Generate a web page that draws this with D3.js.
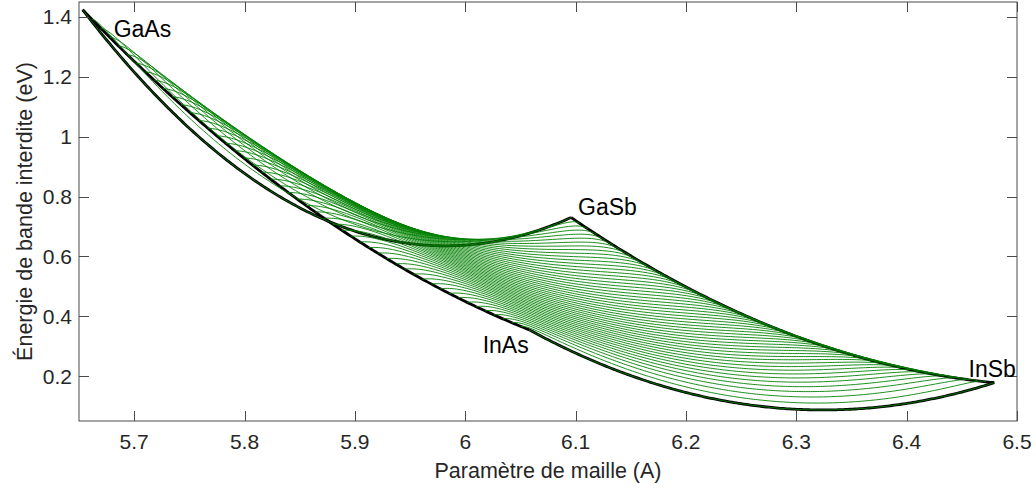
<!DOCTYPE html>
<html>
<head>
<meta charset="utf-8">
<script src="https://cdn.jsdelivr.net/npm/d3@7"></script>
<style>
  html, body { margin: 0; padding: 0; background: #fff; }
  svg { display: block; font-family: "Liberation Sans", Arial, sans-serif; }
</style>
</head>
<body>
<svg id="chart"></svg>
<script>
// binary compounds: lattice constant (A) and band gap (eV)
const binaries = ["GaAs", "GaSb", "InAs", "InSb"];
const latticeConst = [5.6533, 6.0959, 6.0584, 6.4794];
const bandGap = [1.424, 0.73, 0.354, 0.178];

// ternary bowing parameters (eV)
const ternaries = ["GaInAs", "GaInSb", "GaAsSb", "InAsSb"];
const bowing = [0.477, 0.415, 1.43, 0.67];

// In fractions x of the Ga(1-x)In(x)As(y)Sb(1-y) curves
const inFraction = [
  0, 0.02, 0.04, 0.06, 0.08, 0.1, 0.12, 0.14, 0.16, 0.18, 0.2, 0.22, 0.24, 0.26,
  0.28, 0.3, 0.32, 0.34, 0.36, 0.38, 0.4, 0.42, 0.44, 0.46, 0.48, 0.5, 0.52,
  0.54, 0.56, 0.58, 0.6, 0.62, 0.64, 0.66, 0.68, 0.7, 0.72, 0.74, 0.76, 0.78,
  0.8, 0.82, 0.84, 0.86, 0.88, 0.9, 0.92, 0.94, 0.96, 0.98, 1,
];
// As fractions y sampled along each curve
const asFraction = d3.range(0, 201).map((i) => i / 200);

const xTicks = [5.7, 5.8, 5.9, 6, 6.1, 6.2, 6.3, 6.4, 6.5];
const yTicks = [0.2, 0.4, 0.6, 0.8, 1, 1.2, 1.4];
const xDomain = [5.65, 6.5];
const yDomain = [0.05, 1.45];

const width = 1036;
const height = 498;
const margin = { top: 2, right: 19, bottom: 77, left: 79 };
const innerW = width - margin.left - margin.right;
const innerH = height - margin.top - margin.bottom;

const B = (name) => bowing[ternaries.indexOf(name)];
const A = (name) => latticeConst[binaries.indexOf(name)];
const E = (name) => bandGap[binaries.indexOf(name)];

// ternary band gaps
const tern = (e1, e2, c, s) => (1 - s) * e1 + s * e2 - s * (1 - s) * c;
const tGaInAs = (x) => tern(E("GaAs"), E("InAs"), B("GaInAs"), x);
const tGaInSb = (x) => tern(E("GaSb"), E("InSb"), B("GaInSb"), x);
const tGaAsSb = (y) => tern(E("GaSb"), E("GaAs"), B("GaAsSb"), y);
const tInAsSb = (y) => tern(E("InSb"), E("InAs"), B("InAsSb"), y);

// Ga(1-x)In(x)As(y)Sb(1-y): lattice constant (Vegard) and band gap
function point(x, y) {
  const a =
    (1 - x) * y * A("GaAs") + (1 - x) * (1 - y) * A("GaSb") +
    x * y * A("InAs") + x * (1 - y) * A("InSb");
  const wx = x * (1 - x);
  const wy = y * (1 - y);
  let eg;
  if (wx + wy < 1e-12) {
    eg = (1 - x) * y * E("GaAs") + (1 - x) * (1 - y) * E("GaSb") +
      x * y * E("InAs") + x * (1 - y) * E("InSb");
  } else {
    eg = (wx * (y * tGaInAs(x) + (1 - y) * tGaInSb(x)) +
      wy * (x * tInAsSb(y) + (1 - x) * tGaAsSb(y))) / (wx + wy);
  }
  return [a, eg];
}

const xScale = d3.scaleLinear().domain(xDomain).range([0, innerW]);
const yScale = d3.scaleLinear().domain(yDomain).range([innerH, 0]);

const svg = d3.select("#chart").attr("width", width).attr("height", height);

svg.append("defs").append("clipPath").attr("id", "clip")
  .append("rect").attr("width", innerW).attr("height", innerH);

const g = svg.append("g")
  .attr("class", "container")
  .attr("transform", `translate(${margin.left},${margin.top})`);

const line = d3.line()
  .x((d) => xScale(d[0]))
  .y((d) => yScale(d[1]));

const plot = g.append("g").attr("clip-path", "url(#clip)");

// edges of the quaternary domain
const t = asFraction;
const edges = [
  t.map((s) => point(s, 1)),      // GaAs - InAs
  t.map((s) => point(0, 1 - s)),  // GaAs - GaSb
  t.map((s) => point(s, 0)),      // GaSb - InSb
  t.map((s) => point(1, 1 - s)),  // InAs - InSb
];

plot.selectAll(".edge")
  .data(edges)
  .enter()
  .append("path")
  .attr("class", "edge")
  .attr("d", line)
  .attr("fill", "none")
  .attr("stroke", "#000")
  .attr("stroke-width", 2.8)
  .attr("stroke-linejoin", "round");

plot.selectAll(".iso")
  .data(inFraction.map((x) => asFraction.map((y) => point(x, y))))
  .enter()
  .append("path")
  .attr("class", "iso")
  .attr("d", line)
  .attr("fill", "none")
  .attr("stroke", "#008000")
  .attr("stroke-width", 0.9);

// axes box with inward ticks on all sides
const axisColor = "#4a4a4a";
g.append("rect")
  .attr("width", innerW)
  .attr("height", innerH)
  .attr("fill", "none")
  .attr("stroke", axisColor)
  .attr("stroke-width", 1);

const tickLen = 10;
const xt = g.append("g").attr("class", "x ticks");
xTicks.forEach((v) => {
  const px = Math.round(xScale(v)) + 0.5;
  xt.append("line").attr("x1", px).attr("x2", px)
    .attr("y1", innerH).attr("y2", innerH - tickLen).attr("stroke", axisColor);
  xt.append("line").attr("x1", px).attr("x2", px)
    .attr("y1", 0).attr("y2", tickLen).attr("stroke", axisColor);
  xt.append("text")
    .attr("x", xScale(v))
    .attr("y", innerH + 28)
    .attr("text-anchor", "middle")
    .attr("font-size", 21)
    .attr("fill", "#262626")
    .text(d3.format("")(v));
});

const yt = g.append("g").attr("class", "y ticks");
yTicks.forEach((v) => {
  const py = Math.round(yScale(v)) + 0.5;
  yt.append("line").attr("x1", 0).attr("x2", tickLen)
    .attr("y1", py).attr("y2", py).attr("stroke", axisColor);
  yt.append("line").attr("x1", innerW).attr("x2", innerW - tickLen)
    .attr("y1", py).attr("y2", py).attr("stroke", axisColor);
  yt.append("text")
    .attr("x", -7)
    .attr("y", yScale(v) + 7.5)
    .attr("text-anchor", "end")
    .attr("font-size", 21)
    .attr("fill", "#262626")
    .text(d3.format("")(v));
});

// axis titles
g.append("text")
  .attr("x", innerW / 2)
  .attr("y", innerH + 57)
  .attr("text-anchor", "middle")
  .attr("font-size", 21.5)
  .attr("fill", "#262626")
  .text("Paramètre de maille (A)");

g.append("text")
  .attr("transform", `translate(${-47},${innerH / 2}) rotate(-90)`)
  .attr("text-anchor", "middle")
  .attr("font-size", 21.5)
  .attr("fill", "#262626")
  .text("Énergie de bande interdite (eV)");

// compound labels
const labelOffset = {
  GaAs: { dx: 31, dy: 27, anchor: "start" },
  GaSb: { dx: 7, dy: -2, anchor: "start" },
  InAs: { dx: -1, dy: 23, anchor: "end" },
  InSb: { dx: -2, dy: -6, anchor: "middle" },
};
binaries.forEach((name, i) => {
  const o = labelOffset[name];
  g.append("text")
    .attr("x", xScale(latticeConst[i]) + o.dx)
    .attr("y", yScale(bandGap[i]) + o.dy)
    .attr("text-anchor", o.anchor)
    .attr("font-size", 23)
    .attr("fill", "#000")
    .text(name);
});
</script>
</body>
</html>
